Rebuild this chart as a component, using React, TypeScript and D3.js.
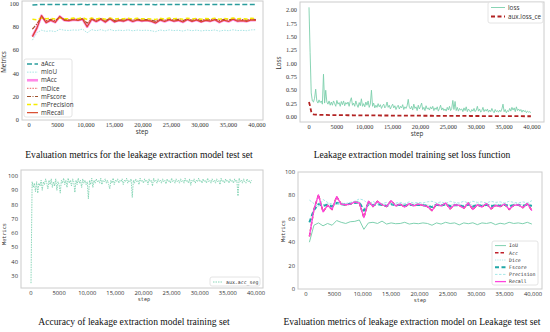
import * as d3 from 'd3'

// evaluation steps (test set) and logging steps (training)
const testSteps = d3.range(50).map(i => 600 + i * 800)
const trainSteps = d3.range(200).map(i => i * 200)
const accSteps = d3.range(197).map(i => i * 200)
const auxSteps = [0, 200, 400, 600, 800, 1200, 2000, 3000, 4000, 5000, 6000, 7000, 8000, 9000, 10000, 11000, 12000, 13000, 14000, 15000, 16000, 17000, 18000, 19000, 20000, 21000, 22000, 23000, 24000, 25000, 26000, 27000, 28000, 29000, 30000, 31000, 32000, 33000, 34000, 35000, 36000, 37000, 38000, 39000, 39800]

const xTicks = [0, 5000, 10000, 15000, 20000, 25000, 30000, 35000, 40000]
const xTickLabels = ['0', '5000', '10,000', '15,000', '20,000', '25,000', '30,000', '35,000', '40,000']

// panel 1: test set metrics
const aAcc = [98.6, 98.9, 99.1, 99, 99.1, 99, 99.1, 99.1, 99, 99.1, 99.1, 99.2, 98.8, 99.1, 99, 99.1, 99, 99.1, 99, 99.1, 99, 99.1, 99, 99.1, 99, 99.1, 99, 98.9, 99.1, 99, 99.1, 99, 99.1, 99, 99.1, 99, 99.1, 99, 99.1, 99, 99.1, 99, 99.1, 99, 99.1, 99, 99.1, 99, 99.1, 99.1]
const mIoU = [68.5, 75, 77, 76, 76.5, 75.8, 77.8, 77, 76.8, 77.2, 77, 78, 74.8, 77.5, 76.6, 77.5, 76.4, 77.6, 76.5, 77, 76.7, 77.3, 76.5, 77.1, 76.8, 77, 76.6, 75.8, 77.2, 76.5, 77.3, 76.7, 77, 76.3, 77.3, 76.6, 77.1, 76.4, 76.9, 76.7, 77.2, 76.2, 77, 76.6, 77.4, 76.7, 76.9, 76.6, 77.3, 77.4]
const mAcc = [71.5, 79, 89.5, 83.5, 85.5, 83.8, 88.8, 85.5, 85.2, 86, 85.5, 86.5, 80, 86.5, 84.5, 86.5, 84, 86.8, 84.2, 85.5, 84.8, 86.2, 84.5, 85.8, 85, 85.5, 84.8, 83.2, 85.8, 84.5, 86, 84.8, 85.5, 84, 86.2, 84.6, 85.8, 84.2, 85.5, 84.8, 86, 83.8, 85.6, 84.5, 86.4, 84.7, 85.2, 84.6, 85.8, 85.5]
const mDice = [78, 82.5, 88.5, 85, 86.3, 85.2, 88, 86.2, 86, 86.7, 86.2, 87.1, 83, 86.9, 85.6, 86.9, 85.2, 87.1, 85.4, 86.2, 85.8, 86.7, 85.5, 86.5, 85.9, 86.2, 85.7, 84.7, 86.5, 85.5, 86.7, 85.8, 86.3, 85.2, 86.7, 85.6, 86.5, 85.3, 86.2, 85.8, 86.6, 85.1, 86.3, 85.6, 86.9, 85.7, 86.1, 85.6, 86.5, 86.2]
const mFscore = [78, 82.5, 88.5, 85, 86.3, 85.2, 88, 86.2, 86, 86.7, 86.2, 87.1, 83, 86.9, 85.6, 86.9, 85.2, 87.1, 85.4, 86.2, 85.8, 86.7, 85.5, 86.5, 85.9, 86.2, 85.7, 84.7, 86.5, 85.5, 86.7, 85.8, 86.3, 85.2, 86.7, 85.6, 86.5, 85.3, 86.2, 85.8, 86.6, 85.1, 86.3, 85.6, 86.9, 85.7, 86.1, 85.6, 86.5, 86.2]
const mPrecision = [86.5, 86, 87.5, 86.8, 87.2, 86.6, 87.4, 87, 86.8, 87.5, 86.9, 87.8, 86.2, 87.4, 86.7, 87.3, 86.5, 87.4, 86.6, 87, 86.8, 87.3, 86.6, 87.2, 86.8, 87, 86.7, 86.3, 87.2, 86.6, 87.4, 86.8, 87.1, 86.4, 87.3, 86.7, 87.2, 86.5, 87, 86.8, 87.3, 86.4, 87.1, 86.7, 87.4, 86.8, 87, 86.6, 87.2, 87]
const mRecall = [71.5, 79, 89.5, 83.5, 85.5, 83.8, 88.8, 85.5, 85.2, 86, 85.5, 86.5, 80, 86.5, 84.5, 86.5, 84, 86.8, 84.2, 85.5, 84.8, 86.2, 84.5, 85.8, 85, 85.5, 84.8, 83.2, 85.8, 84.5, 86, 84.8, 85.5, 84, 86.2, 84.6, 85.8, 84.2, 85.5, 84.8, 86, 83.8, 85.6, 84.5, 86.4, 84.7, 85.2, 84.6, 85.8, 85.5]

// panel 2: training loss
const loss = [
  2.05, 1.2, 0.45, 0.3, 0.28, 0.35, 0.52, 0.3, 0.26, 0.32,
  0.27, 0.3, 0.24, 0.8, 0.26, 0.5, 0.28, 0.24, 0.3, 0.22,
  0.28, 0.22, 0.3, 0.25, 0.2, 0.31, 0.24, 0.27, 0.2, 0.29,
  0.23, 0.3, 0.21, 0.27, 0.24, 0.28, 0.2, 0.3, 0.36, 0.22,
  0.26, 0.2, 0.3, 0.23, 0.18, 0.27, 0.21, 0.34, 0.2, 0.25,
  0.19, 0.28, 0.22, 0.3, 0.18, 0.24, 0.5, 0.2, 0.26, 0.17,
  0.22, 0.18, 0.25, 0.19, 0.23, 0.16, 0.21, 0.24, 0.17, 0.2,
  0.28, 0.18, 0.22, 0.15, 0.2, 0.24, 0.17, 0.21, 0.14, 0.19,
  0.22, 0.15, 0.2, 0.17, 0.23, 0.14, 0.19, 0.16, 0.21, 0.33,
  0.18, 0.15, 0.2, 0.13, 0.24, 0.16, 0.19, 0.12, 0.22, 0.15,
  0.2, 0.26, 0.14, 0.18, 0.12, 0.21, 0.15, 0.17, 0.13, 0.19,
  0.15, 0.2, 0.12, 0.17, 0.14, 0.19, 0.11, 0.16, 0.22, 0.13,
  0.17, 0.12, 0.15, 0.11, 0.18, 0.13, 0.2, 0.12, 0.16, 0.31,
  0.14, 0.29, 0.12, 0.18, 0.11, 0.16, 0.13, 0.15, 0.1, 0.17,
  0.12, 0.19, 0.1, 0.15, 0.12, 0.09, 0.14, 0.11, 0.16, 0.1,
  0.13, 0.2, 0.11, 0.15, 0.09, 0.12, 0.18, 0.1, 0.14, 0.11,
  0.15, 0.09, 0.13, 0.1, 0.16, 0.11, 0.08, 0.14, 0.1, 0.12,
  0.09, 0.13, 0.1, 0.15, 0.24, 0.1, 0.14, 0.08, 0.12, 0.1,
  0.16, 0.11, 0.18, 0.13, 0.17, 0.1, 0.19, 0.12, 0.15, 0.11,
  0.14, 0.09, 0.13, 0.1, 0.12, 0.08, 0.11, 0.09, 0.1, 0.08,
]
const auxLossCe = [0.28, 0.2, 0.1, 0.06, 0.05, 0.045, 0.04, 0.038, 0.036, 0.035, 0.034, 0.033, 0.032, 0.031, 0.03, 0.03, 0.029, 0.028, 0.028, 0.027, 0.026, 0.026, 0.025, 0.025, 0.024, 0.023, 0.023, 0.022, 0.022, 0.021, 0.021, 0.02, 0.02, 0.019, 0.019, 0.018, 0.018, 0.017, 0.017, 0.016, 0.016, 0.015, 0.015, 0.014, 0.014]

// panel 3: training accuracy
const auxAccSeg = [
  25, 96, 92, 95, 89, 96, 88, 95, 93, 97,
  90, 96, 94, 98, 95, 91, 97, 94, 98, 92,
  96, 93, 98, 90, 96, 94, 88, 97, 95, 98.5,
  94, 97, 92, 98.5, 95, 97, 93, 98, 96, 88.5,
  97, 94, 98.5, 95, 97, 92, 98, 95, 97, 94,
  96, 84, 97, 94, 98.5, 92, 97, 95, 98, 96,
  97, 95, 98.5, 94, 97, 96, 98, 95, 97, 94,
  91, 97, 95, 98.5, 94, 97, 96, 98, 95, 97,
  96, 98, 94, 97, 96, 98.5, 95, 97, 96, 98,
  85, 97, 95, 98, 96, 97, 94, 98.5, 96, 97,
  95, 98, 96, 97, 94, 98, 96, 97, 93, 98.5,
  96, 97, 95, 98, 96, 97, 95, 98, 96, 97,
  94.5, 98, 96, 97, 95, 98.5, 96, 97, 95, 98,
  96, 97, 95, 98, 96, 97, 95, 98.5, 96, 97,
  95, 98, 93.5, 97, 96, 98, 95, 97, 96, 98.5,
  96, 97, 95, 98, 96, 97, 95, 98.5, 96, 97,
  95, 98, 96, 97, 95, 98, 96, 97, 94, 98.5,
  96, 97, 95, 98, 96, 97, 95, 98, 96, 97,
  95, 98, 96, 97, 86, 98.5, 96, 97, 95, 98,
  96, 95, 98, 96, 97, 95, 97,
]

// panel 4: leakage test set metrics
const IoU = [40, 54.5, 56.5, 54, 56, 54.5, 58.5, 57, 56, 57.5, 57.8, 59, 51, 56.5, 57, 56, 58, 55.5, 56.5, 55.8, 56, 57, 55.5, 56.2, 55.8, 56.5, 56, 54.5, 56.5, 55.5, 57, 56, 56.5, 54.8, 56.5, 55.8, 56.6, 55, 56.5, 56, 56.8, 55, 56.2, 55.5, 57, 56, 56.5, 55.8, 57, 55.5]
const Acc = [45, 68, 80.5, 66, 71.5, 68, 79, 72.5, 72, 72.5, 74.5, 73.5, 61, 75, 70.5, 75, 72, 70.5, 75.5, 71, 72.5, 70, 73, 71, 72.5, 71.5, 70.5, 67, 72.5, 71, 73.5, 68.5, 72, 71.5, 69, 73.5, 68, 72, 70, 73, 68.5, 71.5, 70.5, 72.5, 68, 71.5, 72, 69.5, 73, 67]
const Dice = [58, 68.5, 73.5, 72, 73, 71.5, 74.5, 73.5, 73, 73.8, 74.5, 75, 68.5, 73.5, 72.5, 73.5, 72.8, 72, 73.5, 72.5, 73, 72.2, 73, 72.5, 73, 72.5, 72, 71, 73, 72.3, 73.2, 71.8, 72.8, 72.5, 71.5, 73.2, 71.5, 72.8, 72, 73, 71.8, 72.5, 72.2, 73, 71.8, 72.6, 72.8, 72, 73.2, 72]
const Fscore = [57, 67.5, 72.5, 71, 72, 70.5, 73.5, 72.5, 72, 72.8, 73.5, 74, 67, 72.5, 71.5, 72.5, 71.8, 71, 72.5, 71.5, 72, 71.2, 72, 71.5, 72, 71.5, 71, 70, 72, 71.3, 72.2, 70.8, 71.8, 71.5, 70.5, 72.2, 70.5, 71.8, 71, 72, 70.8, 71.5, 71.2, 72, 70.8, 71.6, 71.8, 71, 72.2, 71]
const Precision = [76, 73, 70, 76.5, 74, 72.5, 73, 72.5, 73, 74, 75, 77, 76, 72, 75, 72.5, 73, 74, 72.5, 73.5, 74, 73, 74.5, 73.5, 74, 73.5, 74.5, 75, 73.5, 74.5, 73, 75, 74, 73.5, 75, 73.5, 75, 74, 74.5, 73.5, 75, 74, 74.5, 73.5, 75, 74, 73.5, 74.5, 73.5, 75.5]
const Recall = [45, 68, 80.5, 66, 71.5, 68, 79, 72.5, 72, 72.5, 74.5, 73.5, 61, 75, 70.5, 75, 72, 70.5, 75.5, 71, 72.5, 70, 73, 71, 72.5, 71.5, 70.5, 67, 72.5, 71, 73.5, 68.5, 72, 71.5, 69, 73.5, 68, 72, 70, 73, 68.5, 71.5, 70.5, 72.5, 68, 71.5, 72, 69.5, 73, 67]

interface Series {
  name: string
  steps: number[]
  values: number[]
  color: string
  width: number
  dash?: string
}

interface PanelProps {
  id: string
  box: { l: number; r: number; t: number; b: number }
  xRange: [number, number]
  yDomain: [number, number]
  yRange: [number, number]
  yTicks: number[]
  yFormat: (v: number) => string
  series: Series[]
  ylabel: string
  ylabelAt: [number, number]
  xlabel: string
  xlabelAt: [number, number]
  caption: string
  captionAt: [number, number]
  tickFont: string
  tickSize: number
  labelFont: string
  labelSize: number
  legend: { x: number; y: number; w: number; h: number; rowH: number; font: string; size: number; lineW: number }
}

const serif = '"Liberation Serif", "DejaVu Serif", serif'
const sans = '"Open Sans", "DejaVu Sans", sans-serif'
const mono = '"DejaVu Sans Mono", monospace'

function Panel(p: PanelProps) {
  const x = d3.scaleLinear().domain([0, 40000]).range(p.xRange)
  const y = d3.scaleLinear().domain(p.yDomain).range(p.yRange)
  const { l, r, t, b } = p.box
  const lg = p.legend

  return (
    <g>
      <defs>
        <clipPath id={p.id}>
          <rect x={l} y={t} width={r - l} height={b - t} />
        </clipPath>
      </defs>
      <rect x={l} y={t} width={r - l} height={b - t} fill="white" stroke="#cccccc" strokeWidth={1} />

      <g clipPath={`url(#${p.id})`}>
        {p.series.map(s => {
          const pts = s.values.map((v, i) => [x(s.steps[i]), y(v)] as [number, number])
          return (
            <path key={s.name} d={d3.line()(pts) ?? ''} fill="none" stroke={s.color}
              strokeWidth={s.width} strokeDasharray={s.dash} strokeLinejoin="round" />
          )
        })}
      </g>

      {p.yTicks.map(v => (
        <text key={v} x={l - 3} y={y(v)} dy="0.35em" textAnchor="end"
          fontFamily={p.tickFont} fontSize={p.tickSize} fill="#333">{p.yFormat(v)}</text>
      ))}
      {xTicks.map((v, i) => (
        <text key={v} x={x(v)} y={b + 6.5} textAnchor="middle"
          fontFamily={p.tickFont} fontSize={p.tickSize} fill="#333">{xTickLabels[i]}</text>
      ))}

      <text x={p.xlabelAt[0]} y={p.xlabelAt[1]} textAnchor="middle" fontFamily={p.labelFont}
        fontSize={p.labelSize} fill="#333">{p.xlabel}</text>
      <text transform={`translate(${p.ylabelAt[0]},${p.ylabelAt[1]}) rotate(-90)`} textAnchor="middle"
        fontFamily={p.labelFont} fontSize={p.labelSize} fill="#333">{p.ylabel}</text>

      {/* legend */}
      <rect x={lg.x} y={lg.y} width={lg.w} height={lg.h} rx={2} fill="white" fillOpacity={0.85} stroke="#dddddd" strokeWidth={0.8} />
      {p.series.map((s, i) => {
        const cy = lg.y + lg.rowH * (i + 0.5) + 1
        return (
          <g key={s.name}>
            <line x1={lg.x + 3} x2={lg.x + 3 + lg.lineW} y1={cy} y2={cy} stroke={s.color}
              strokeWidth={s.width} strokeDasharray={s.dash} />
            <text x={lg.x + 6 + lg.lineW} y={cy} dy="0.35em" fontFamily={lg.font} fontSize={lg.size} fill="#333">{s.name}</text>
          </g>
        )
      })}

      <text x={p.captionAt[0]} y={p.captionAt[1]} textAnchor="middle" fontFamily={serif}
        fontSize={9.6} fill="#111">{p.caption}</text>
    </g>
  )
}

const fmt0 = (v: number) => String(v)
const fmt2 = (v: number) => v.toFixed(2)

export default function App() {
  return (
    <svg width={550} height={332} style={{ position: 'absolute', left: 0, top: 0, background: 'white' }}>
      <Panel
        id="c1" box={{ l: 22, r: 263, t: 1, b: 120 }} xRange={[29, 257]}
        yDomain={[0, 100]} yRange={[120, 3.4]} yTicks={[0, 20, 40, 60, 80, 100]} yFormat={fmt0}
        series={[
          { name: 'aAcc', steps: testSteps, values: aAcc, color: '#2a9d9d', width: 1.5, dash: '5,2.5' },
          { name: 'mIoU', steps: testSteps, values: mIoU, color: '#a6e4e4', width: 1, dash: '1.5,1.2' },
          { name: 'mAcc', steps: testSteps, values: mAcc, color: '#ff8ae6', width: 2.6 },
          { name: 'mDice', steps: testSteps, values: mDice, color: '#f08080', width: 1.1, dash: '1.5,1.2' },
          { name: 'mFscore', steps: testSteps, values: mFscore, color: '#a0522d', width: 1.1, dash: '4,1.5,1,1.5' },
          { name: 'mPrecision', steps: testSteps, values: mPrecision, color: '#f5ec00', width: 1.5, dash: '4,2.5' },
          { name: 'mRecall', steps: testSteps, values: mRecall, color: '#d9482b', width: 1.2 },
        ]}
        ylabel="Metrics" ylabelAt={[6, 62]} xlabel="step" xlabelAt={[142, 133.5]}
        caption="Evaluation metrics for the leakage extraction model test set" captionAt={[139, 158]}
        tickFont={serif} tickSize={6.3} labelFont={sans} labelSize={6.3}
        legend={{ x: 24, y: 59, w: 48, h: 58, rowH: 8.1, font: sans, size: 6.3, lineW: 11 }}
      />
      <Panel
        id="c2" box={{ l: 300, r: 544, t: 2, b: 122 }} xRange={[309, 532]}
        yDomain={[0, 2]} yRange={[117, 10]} yTicks={[0, 0.25, 0.5, 0.75, 1, 1.25, 1.5, 1.75, 2]} yFormat={fmt2}
        series={[
          { name: 'loss', steps: trainSteps, values: loss, color: '#7ccfac', width: 0.9 },
          { name: 'aux.loss_ce', steps: auxSteps, values: auxLossCe, color: '#b22222', width: 1.8, dash: '4,2.5' },
        ]}
        ylabel="Loss" ylabelAt={[281, 63]} xlabel="step" xlabelAt={[417, 135.5]}
        caption="Leakage extraction model training set loss function" captionAt={[412, 158]}
        tickFont={serif} tickSize={6.3} labelFont={sans} labelSize={6.3}
        legend={{ x: 488, y: 2, w: 55, h: 21, rowH: 9, font: sans, size: 6.3, lineW: 14 }}
      />
      <Panel
        id="c3" box={{ l: 21, r: 263, t: 170, b: 288 }} xRange={[31, 256]}
        yDomain={[30, 100]} yRange={[276, 176]} yTicks={[30, 40, 50, 60, 70, 80, 90, 100]} yFormat={fmt0}
        series={[
          { name: 'aux.acc_seg', steps: accSteps, values: auxAccSeg, color: '#6ccca6', width: 0.8, dash: '1.5,1' },
        ]}
        ylabel="Metrics" ylabelAt={[6, 234]} xlabel="step" xlabelAt={[144, 300.5]}
        caption="Accuracy of leakage extraction model training set" captionAt={[134, 324.5]}
        tickFont={sans} tickSize={5.8} labelFont={mono} labelSize={5.2}
        legend={{ x: 210, y: 277, w: 50, h: 9, rowH: 8, font: mono, size: 4.9, lineW: 10 }}
      />
      <Panel
        id="c4" box={{ l: 298, r: 542, t: 172, b: 289 }} xRange={[306, 533]}
        yDomain={[0, 100]} yRange={[289, 172]} yTicks={[0, 20, 40, 60, 80, 100]} yFormat={fmt0}
        series={[
          { name: 'IoU', steps: testSteps, values: IoU, color: '#7fd1b0', width: 1 },
          { name: 'Acc', steps: testSteps, values: Acc, color: '#c0202a', width: 1.4, dash: '3.5,2' },
          { name: 'Dice', steps: testSteps, values: Dice, color: '#aee6e6', width: 1, dash: '1.3,1' },
          { name: 'Fscore', steps: testSteps, values: Fscore, color: '#20a8a8', width: 2, dash: '4,2.5' },
          { name: 'Precision', steps: testSteps, values: Precision, color: '#a6e8e8', width: 1, dash: '2.5,1.5' },
          { name: 'Recall', steps: testSteps, values: Recall, color: '#ff44dd', width: 1.3 },
        ]}
        ylabel="Metrics" ylabelAt={[285, 231]} xlabel="step" xlabelAt={[420, 301.5]}
        caption="Evaluation metrics of leakage extraction model on Leakage test set" captionAt={[412, 324.5]}
        tickFont={sans} tickSize={5.8} labelFont={mono} labelSize={5.2}
        legend={{ x: 492, y: 241, w: 46, h: 44, rowH: 7.2, font: mono, size: 4.9, lineW: 11 }}
      />
    </svg>
  )
}
